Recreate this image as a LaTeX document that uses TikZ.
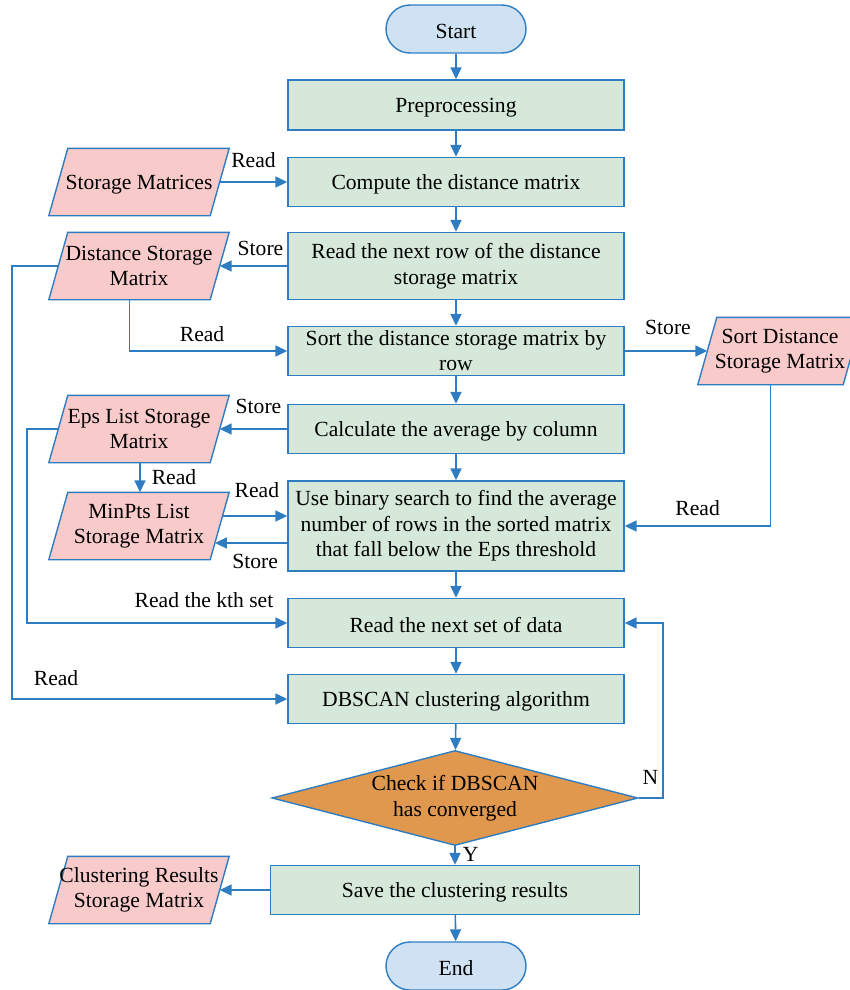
\documentclass[tikz,border=0pt]{standalone}
\usepackage{fontspec}
\setmainfont{Liberation Serif}
\usetikzlibrary{shapes.geometric,arrows.meta,calc,backgrounds}
\definecolor{lineblue}{HTML}{2E7DC2}
\definecolor{boxgreen}{HTML}{D5E8DA}
\definecolor{boxpink}{HTML}{F8CACA}
\definecolor{termblue}{HTML}{CFE2F3}
\definecolor{diaorange}{HTML}{E0984F}
\begin{document}
\begin{tikzpicture}[x=1pt,y=-1pt,
 font=\fontsize{21.6}{25.5}\selectfont,
 lowered/.style={execute at begin node={\rule{0pt}{20pt}}},
 proc/.style={lowered, draw=lineblue, line width=1.4pt, fill=boxgreen, minimum width=336pt, minimum height=49pt, align=center, inner sep=0pt},
 store/.style={lowered, minimum width=180pt, minimum height=67pt, align=center, inner sep=0pt},
 pgram/.style={draw=lineblue, line width=1.4pt, fill=boxpink},
 term/.style={lowered, draw=lineblue, line width=1.4pt, fill=termblue, rounded corners=24pt, minimum width=140pt, minimum height=48pt, inner sep=0pt},
 dec/.style={lowered, diamond, draw=lineblue, line width=1.4pt, fill=diaorange, minimum width=366pt, minimum height=95pt, shape aspect=3.85, inner sep=0pt, align=center},
 arr/.style={draw=lineblue, line width=1.6pt, -{Triangle[length=12pt,width=11pt]}},
 ln/.style={draw=lineblue, line width=1.6pt},
 lbl/.style={inner sep=1pt}
]
\useasboundingbox (0,0) rectangle (849,990);
% main column
\node[term] (start) at (456,29) {Start};
\node[proc, minimum height=50pt] (pre) at (456,105) {Preprocessing};
\node[proc] (comp) at (456,182) {Compute the distance matrix};
\node[proc, minimum height=67pt] (row) at (456,266) {Read the next row of the distance\\storage matrix};
\node[proc, font=\fontsize{21.6}{25}\selectfont] (sort) at (456,351) {Sort the distance storage matrix by\\row};
\node[proc] (avg) at (456,429) {Calculate the average by column};
\node[proc, minimum height=90pt] (bs) at (456,526) {Use binary search to find the average\\number of rows in the sorted matrix\\that fall below the Eps threshold};
\node[proc] (next) at (456,623) {Read the next set of data};
\node[proc] (db) at (456,699) {DBSCAN clustering algorithm};
\node[dec] (chk) at (455,798) {Check if DBSCAN\\has converged};
\node[proc, minimum width=369pt] (save) at (455,890) {Save the clustering results};
\node[term] (end) at (456,966) {End};
% storage (text nodes; parallelograms drawn behind)
\node[store] (sm) at (139,182) {Storage Matrices};
\node[store] (dsm) at (139,266) {Distance Storage\\Matrix};
\node[store, minimum width=164pt] (sdsm) at (780,351) {Sort Distance\\Storage Matrix};
\node[store] (eps) at (139,429) {Eps List Storage\\Matrix};
\node[store] (mp) at (139,526) {MinPts List\\Storage Matrix};
\node[store] (crs) at (139,890) {Clustering Results\\Storage Matrix};
\begin{pgfonlayer}{background}
\foreach \n in {sm,dsm,sdsm,eps,mp,crs}{
  \draw[pgram] (\n.south west) -- ($(\n.north west)+(19,0)$) -- (\n.north east)
    -- ($(\n.south east)+(-19,0)$) -- cycle;
}
\end{pgfonlayer}
% helper coordinates
\coordinate (L1) at (12,266);
\coordinate (L2) at (27,429);
\coordinate (R1) at (663,798);
% vertical flow
\draw[arr] (start) -- (pre);
\draw[arr] (pre) -- (comp);
\draw[arr] (comp) -- (row);
\draw[arr] (row) -- (sort);
\draw[arr] (sort) -- (avg);
\draw[arr] (avg) -- (bs);
\draw[arr] (bs) -- (next);
\draw[arr] (next) -- (db);
\draw[arr] (db) -- (chk);
\draw[arr] (chk) -- node[lbl, right, pos=0.45, xshift=6pt]{Y} (save);
\draw[arr] (save) -- (end);
% side connections
\draw[arr] ($(sm.east)+(-9.5,0)$) -- node[lbl, above, yshift=12pt]{Read} (comp.west);
\draw[arr] (row.west) -- node[lbl, above, yshift=8pt, xshift=7pt]{Store} ($(dsm.east)+(-9.5,0)$);
\draw[arr] ($(dsm.south)+(-9.5,0)$) |- node[lbl, above, pos=0.73, yshift=7pt]{Read} (sort.west);
\draw[arr] ($(dsm.west)+(9.5,0)$) -- (L1) |- node[lbl, above, pos=0.58, yshift=11pt]{Read} (db.west);
\draw[arr] (sort.east) -- node[lbl, above, yshift=14pt, xshift=2pt]{Store} ($(sdsm.west)+(9.5,0)$);
\draw[arr] ($(sdsm.south)+(-9.5,0)$) |- node[lbl, above, pos=0.75, yshift=8pt]{Read} (bs.east);
\draw[arr] (avg.west) -- node[lbl, above, yshift=13pt, xshift=5pt]{Store} ($(eps.east)+(-9.5,0)$);
\draw[arr] ($(eps.south)+(1,0)$) -- node[lbl, right, xshift=10pt]{Read} ($(mp.north)+(1,0)$);
\draw[arr] ($(mp.east)+(-6.7,-10)$) -- node[lbl, above, yshift=16pt, xshift=2pt]{Read} ($(bs.west)+(0,-10)$);
\draw[arr] ($(bs.west)+(0,17)$) -- node[lbl, below, yshift=-9pt, xshift=4pt]{Store} ($(mp.east)+(-14.3,17)$);
\draw[arr] ($(eps.west)+(9.5,0)$) -- (L2) |- node[lbl, above, pos=0.84, yshift=13pt]{Read the kth set} (next.west);
\draw[ln] ($(mp.south)+(-9.5,0)$) -- ($(mp.south)+(-9.5,0)$ |- next.west);
\draw[arr] (chk.east) -- node[lbl, pos=1, anchor=south east, xshift=-3pt, yshift=12pt]{N} (R1) |- (next.east);
\draw[arr] (save.west) -- ($(crs.east)+(-9.5,0)$);
\end{tikzpicture}
\end{document}
